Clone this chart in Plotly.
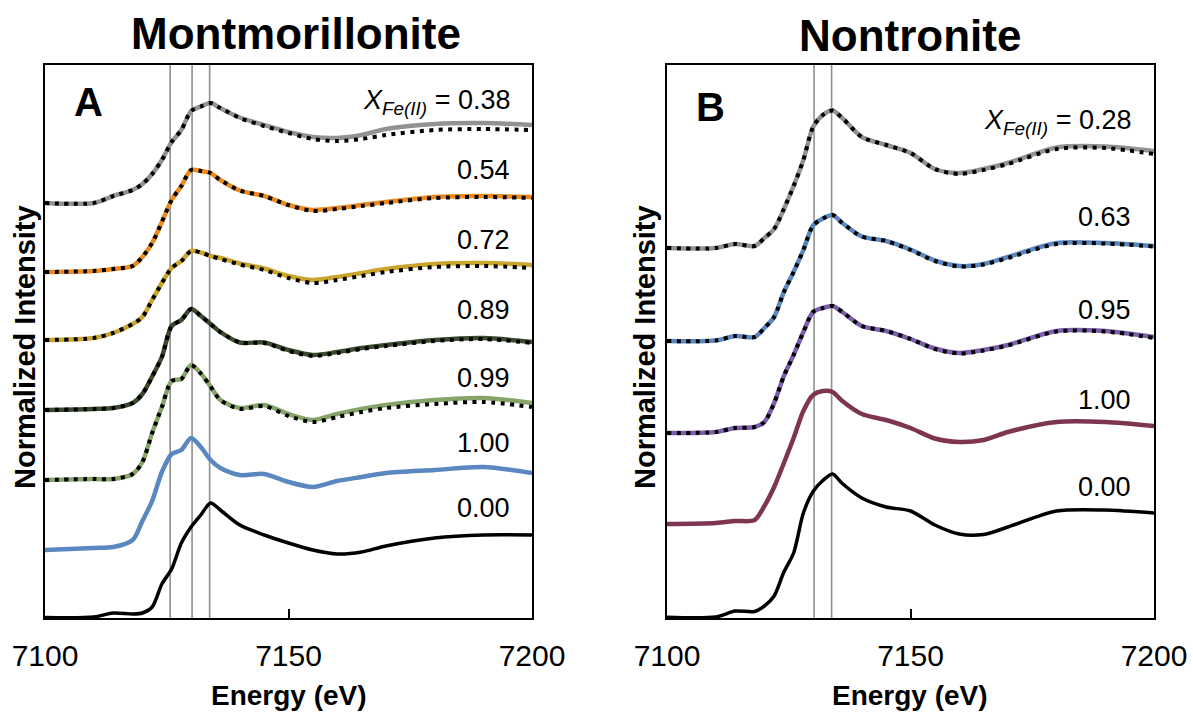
import plotly.graph_objects as go

# ---------------- data ----------------
energy = [7100, 7110, 7114, 7118, 7120, 7122, 7124, 7126, 7128, 7130, 7132, 7134,
          7136, 7140, 7145, 7150, 7155, 7160, 7165, 7170, 7180, 7190, 7200]

# Panel A: Montmorillonite (stacked normalized intensity, offsets included)
mont_038 = [4.15, 4.15, 4.22, 4.28, 4.34, 4.44, 4.58, 4.76, 4.88, 5.07, 5.115, 5.15,
            5.10, 5.005, 4.93, 4.86, 4.81, 4.80, 4.83, 4.89, 4.94, 4.95, 4.93]
mont_038_fit = [4.15, 4.15, 4.22, 4.28, 4.34, 4.44, 4.58, 4.76, 4.88, 5.07, 5.115, 5.15,
                5.10, 5.00, 4.92, 4.85, 4.79, 4.77, 4.79, 4.83, 4.88, 4.89, 4.88]
mont_054 = [3.46, 3.47, 3.49, 3.52, 3.61, 3.75, 3.96, 4.18, 4.32, 4.48, 4.47, 4.45,
            4.38, 4.275, 4.22, 4.13, 4.08, 4.10, 4.13, 4.16, 4.21, 4.22, 4.21]
mont_054_fit = [3.46, 3.47, 3.49, 3.52, 3.61, 3.75, 3.96, 4.18, 4.32, 4.48, 4.47, 4.45,
                4.38, 4.275, 4.22, 4.13, 4.07, 4.09, 4.12, 4.15, 4.20, 4.21, 4.20]
mont_072 = [2.78, 2.80, 2.85, 2.94, 3.01, 3.18, 3.35, 3.50, 3.57, 3.67, 3.655, 3.62,
            3.60, 3.545, 3.495, 3.42, 3.38, 3.41, 3.45, 3.49, 3.54, 3.55, 3.53]
mont_072_fit = [2.78, 2.80, 2.85, 2.94, 3.01, 3.18, 3.35, 3.50, 3.57, 3.67, 3.655, 3.62,
                3.59, 3.535, 3.48, 3.40, 3.35, 3.38, 3.42, 3.46, 3.51, 3.52, 3.50]
mont_089 = [2.08, 2.09, 2.10, 2.15, 2.24, 2.415, 2.61, 2.92, 2.98, 3.09, 3.02, 2.94,
            2.86, 2.755, 2.755, 2.68, 2.63, 2.66, 2.70, 2.73, 2.78, 2.80, 2.76]
mont_089_fit = [2.08, 2.09, 2.10, 2.15, 2.24, 2.415, 2.61, 2.92, 2.98, 3.09, 3.02, 2.94,
                2.86, 2.755, 2.75, 2.67, 2.62, 2.65, 2.69, 2.72, 2.77, 2.79, 2.75]
mont_099 = [1.38, 1.39, 1.39, 1.44, 1.56, 1.85, 2.11, 2.37, 2.39, 2.53, 2.445, 2.315,
            2.18, 2.10, 2.13, 2.04, 1.98, 2.04, 2.09, 2.13, 2.18, 2.20, 2.15]
mont_099_fit = [1.38, 1.39, 1.39, 1.44, 1.56, 1.85, 2.11, 2.37, 2.39, 2.53, 2.445, 2.315,
                2.18, 2.09, 2.12, 2.02, 1.96, 2.01, 2.06, 2.10, 2.14, 2.16, 2.11]
mont_100 = [0.68, 0.70, 0.71, 0.78, 0.97, 1.17, 1.46, 1.64, 1.68, 1.80, 1.71, 1.58,
            1.50, 1.43, 1.44, 1.36, 1.31, 1.37, 1.41, 1.45, 1.48, 1.51, 1.45]
mont_000 = [0.005, 0.01, 0.05, 0.04, 0.05, 0.11, 0.34, 0.49, 0.75, 0.91, 1.03, 1.15,
            1.08, 0.93, 0.83, 0.75, 0.68, 0.64, 0.66, 0.72, 0.80, 0.83, 0.83]

# Panel B: Nontronite
nont_028 = [3.70, 3.70, 3.74, 3.72, 3.80, 3.89, 4.09, 4.32, 4.58, 4.91, 5.03, 5.075,
            5.00, 4.81, 4.73, 4.65, 4.49, 4.45, 4.49, 4.55, 4.705, 4.715, 4.67]
nont_028_fit = [3.70, 3.70, 3.74, 3.72, 3.80, 3.89, 4.09, 4.32, 4.58, 4.91, 5.03, 5.075,
                5.00, 4.81, 4.73, 4.65, 4.49, 4.44, 4.48, 4.54, 4.69, 4.70, 4.64]
nont_063 = [2.77, 2.775, 2.82, 2.81, 2.90, 3.01, 3.26, 3.46, 3.68, 3.925, 3.995, 4.03,
            3.95, 3.815, 3.77, 3.685, 3.575, 3.52, 3.54, 3.61, 3.75, 3.75, 3.72]
nont_063_fit = [2.77, 2.775, 2.82, 2.81, 2.90, 3.01, 3.26, 3.46, 3.68, 3.925, 3.995, 4.03,
                3.95, 3.815, 3.77, 3.68, 3.57, 3.515, 3.535, 3.60, 3.74, 3.745, 3.715]
nont_095 = [1.85, 1.86, 1.90, 1.91, 1.96, 2.15, 2.42, 2.63, 2.86, 3.06, 3.10, 3.12,
            3.06, 2.92, 2.87, 2.79, 2.695, 2.65, 2.68, 2.73, 2.87, 2.87, 2.81]
nont_095_fit = [1.85, 1.86, 1.90, 1.91, 1.96, 2.15, 2.42, 2.63, 2.86, 3.06, 3.10, 3.12,
                3.06, 2.92, 2.87, 2.79, 2.69, 2.645, 2.675, 2.725, 2.865, 2.865, 2.80]
nont_100 = [0.94, 0.95, 0.97, 0.98, 1.12, 1.31, 1.55, 1.80, 2.07, 2.23, 2.27, 2.26,
            2.17, 2.04, 1.98, 1.90, 1.795, 1.76, 1.78, 1.86, 1.96, 1.96, 1.92]
nont_000 = [0.007, 0.01, 0.07, 0.065, 0.12, 0.22, 0.46, 0.65, 1.05, 1.265, 1.375, 1.44,
            1.345, 1.20, 1.11, 1.07, 0.93, 0.84, 0.835, 0.91, 1.07, 1.08, 1.05]

mont_labels = ["<i>X</i><sub><i>Fe(II)</i></sub> = 0.38", "0.54", "0.72", "0.89", "0.99", "1.00", "0.00"]
mont_label_y = [5.163, 4.48, 3.78, 3.08, 2.40, 1.75, 1.10]
nont_labels = ["<i>X</i><sub><i>Fe(II)</i></sub> = 0.28", "0.63", "0.95", "1.00", "0.00"]
nont_label_y = [4.963, 4.013, 3.08, 2.18, 1.313]

mont_lines = [7125.7, 7130.2, 7133.8]
nont_lines = [7130.2, 7133.8]

x_ticks = [7100, 7150, 7200]

# ---------------- styling ----------------
C_GRAY = "#929292"
C_ORANGE = "#EC8A21"
C_YELLOW = "#C9A52B"
C_OLIVE = "#3B4A2C"
C_SAGE = "#86A46A"
C_BLUE = "#5A87C0"
C_BLACK = "#000000"
C_PURPLE = "#7C5DAE"
C_MAROON = "#7E3551"

mont_series = [
    (mont_038, mont_038_fit, C_GRAY),
    (mont_054, mont_054_fit, C_ORANGE),
    (mont_072, mont_072_fit, C_YELLOW),
    (mont_089, mont_089_fit, C_OLIVE),
    (mont_099, mont_099_fit, C_SAGE),
    (mont_100, None, C_BLUE),
    (mont_000, None, C_BLACK),
]
nont_series = [
    (nont_028, nont_028_fit, C_GRAY),
    (nont_063, nont_063_fit, C_BLUE),
    (nont_095, nont_095_fit, C_PURPLE),
    (nont_100, None, C_MAROON),
    (nont_000, None, C_BLACK),
]

FONT = "Liberation Sans, Arial, sans-serif"
W, H = 1193, 717
# plot-area frame (pixels)
L, R, T, B = 45, 1154, 65, 618
PW, PH = R - L, B - T

def px(xp):
    return (xp - L) / PW

def py(yp):
    return (B - yp) / PH

dom_a = [0, px(532)]
dom_b = [px(667), 1]

fig = go.Figure()

def add_panel(series, xa, ya):
    for vals, fit, col in series:
        fig.add_trace(go.Scatter(
            x=energy, y=vals, mode="lines", xaxis=xa, yaxis=ya,
            line=dict(color=col, width=3.5 if col == C_BLACK else 4.5,
                      shape="spline", smoothing=0.8),
            hoverinfo="skip", showlegend=False))
    for vals, fit, col in series:
        if fit is not None:
            fig.add_trace(go.Scatter(
                x=energy, y=fit, mode="lines", xaxis=xa, yaxis=ya,
                line=dict(color="#000000", width=4, dash="4px,5.5px",
                          shape="spline", smoothing=0.8),
                hoverinfo="skip", showlegend=False))

add_panel(mont_series, "x", "y")
add_panel(nont_series, "x2", "y2")

shapes = []
for xv in mont_lines:
    shapes.append(dict(type="line", xref="x", yref="y domain", x0=xv, x1=xv, y0=0, y1=1,
                       line=dict(color="#8f8f8f", width=1.6), layer="below"))
for xv in nont_lines:
    shapes.append(dict(type="line", xref="x2", yref="y2 domain", x0=xv, x1=xv, y0=0, y1=1,
                       line=dict(color="#8f8f8f", width=1.6), layer="below"))

axis_x = dict(range=[7100, 7200], tickvals=x_ticks, ticks="inside", ticklen=9,
              tickwidth=1.5, tickcolor="#000", showline=True, mirror=True,
              linecolor="#000", linewidth=1.5, showgrid=False, zeroline=False,
              automargin=False, ticklabelstandoff=10,
              tickfont=dict(family=FONT, size=30, color="#000"))
axis_y = dict(range=[0, 5.53], showticklabels=False, ticks="", showline=True, mirror=True,
              linecolor="#000", linewidth=1.5, showgrid=False, zeroline=False,
              automargin=False)

annotations = []
def label(text, x, y, size, xref="paper", yref="paper", xanchor="center", angle=0):
    annotations.append(dict(text=text, x=x, y=y, xref=xref, yref=yref, showarrow=False,
                            xanchor=xanchor, yanchor="middle", textangle=angle,
                            font=dict(family=FONT, size=size, color="#000")))

for t, yv in zip(mont_labels, mont_label_y):
    label(t, 7195.9, yv, 27, xref="x", yref="y", xanchor="right")
for t, yv in zip(nont_labels, nont_label_y):
    label(t, 7195.7, yv, 27, xref="x2", yref="y2", xanchor="right")

label("<b>Montmorillonite</b>", px(296), py(33), 44)
label("<b>Nontronite</b>", px(910), py(35), 44)
label("<b>A</b>", px(88), py(102), 40)
label("<b>B</b>", px(710), py(107), 40)
label("<b>Energy (eV)</b>", px(288.5), py(695), 28)
label("<b>Energy (eV)</b>", px(910.5), py(695), 28)
label("<b>Normalized Intensity</b>", px(25), py(347), 29, angle=-90)
label("<b>Normalized Intensity</b>", px(645), py(347), 29, angle=-90)

fig.update_layout(
    width=W, height=H, margin=dict(l=L, r=W - R, t=T, b=H - B, autoexpand=False),
    paper_bgcolor="white", plot_bgcolor="white",
    xaxis=dict(axis_x, domain=dom_a, anchor="y"),
    yaxis=dict(axis_y, domain=[0, 1], anchor="x"),
    xaxis2=dict(axis_x, domain=dom_b, anchor="y2"),
    yaxis2=dict(axis_y, domain=[0, 1], anchor="x2"),
    shapes=shapes, annotations=annotations, showlegend=False,
)

fig.write_html("out.html")
